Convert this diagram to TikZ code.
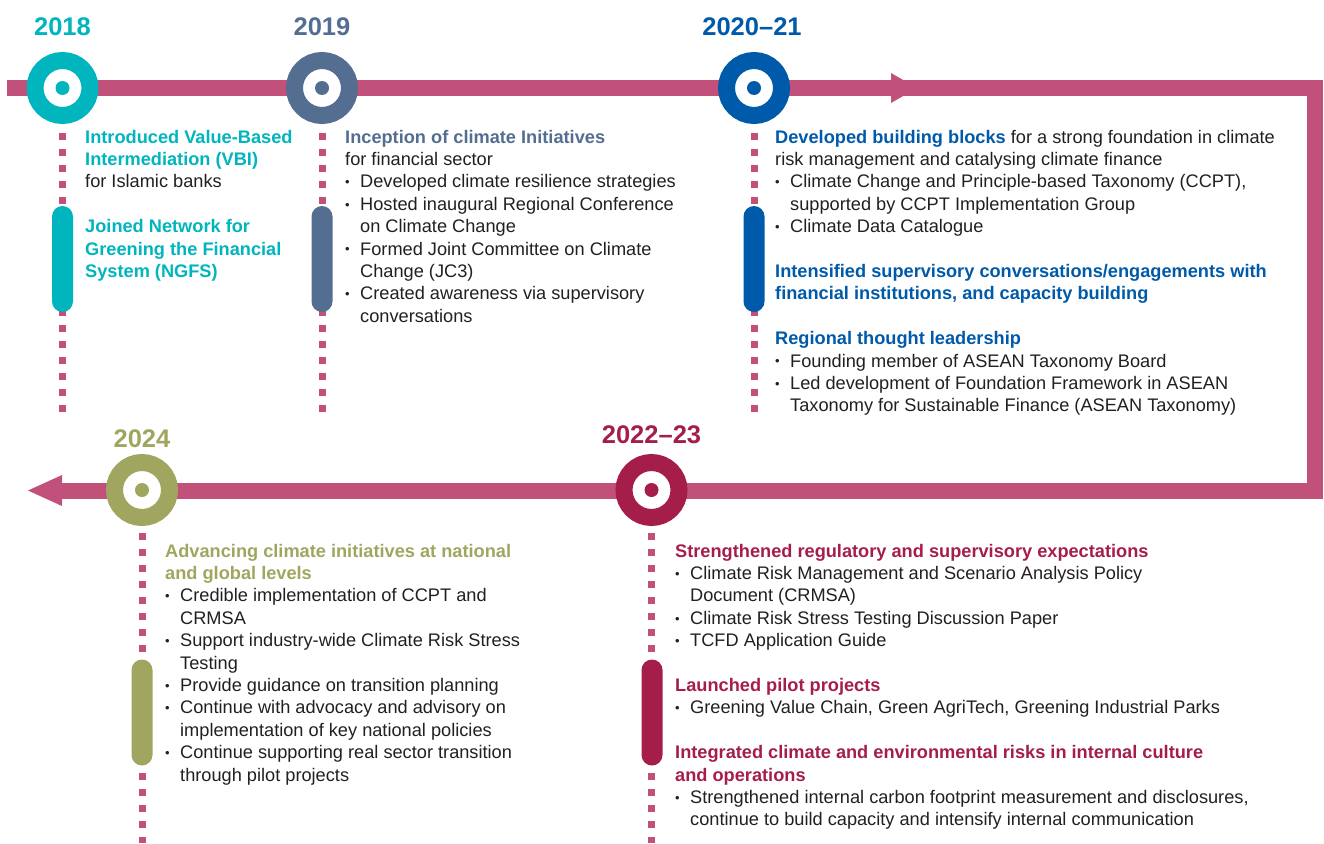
\documentclass[tikz,border=0pt]{standalone}
\usepackage{fontspec}
\setmainfont{Liberation Sans}
\definecolor{tl}{HTML}{00B5BD}
\definecolor{sl}{HTML}{546E91}
\definecolor{bl}{HTML}{005AAA}
\definecolor{cr}{HTML}{A51E4A}
\definecolor{ol}{HTML}{A0A660}
\definecolor{pk}{HTML}{C1507A}
\definecolor{tx}{HTML}{231F20}
\newcommand{\bul}{\makebox[15pt][l]{\raisebox{1.2pt}{\fontsize{13}{13}\selectfont •}}}
\newcommand{\cont}{\hspace*{15pt}}
\begin{document}
\begin{tikzpicture}[x=1pt,y=-1pt,
  ring/.style={circle,draw=#1,line width=17pt,fill=white,minimum size=55pt,inner sep=0pt},
  core/.style={circle,fill=#1,minimum size=14pt,inner sep=0pt},
  pill/.style={rectangle,rounded corners=10.5pt,fill=#1,minimum width=21pt,minimum height=106pt,inner sep=0pt},
  year/.style={text=#1,font=\fontsize{25.5}{25}\selectfont\bfseries,anchor=base,inner sep=0pt},
  txt/.style={anchor=base west,inner sep=0pt,text=tx,font=\fontsize{18.2}{22.4}\selectfont},
  dots/.style={draw=pk,line width=7pt,dash pattern=on 7pt off 9pt},
  tline/.style={draw=pk,line width=16pt,line join=miter}
]
\useasboundingbox (0,0) rectangle (1324,843);

% timeline
\coordinate (start) at (7,88);
\coordinate (c1) at (1314.5,88);
\coordinate (c2) at (1314.5,490.5);
\coordinate (end) at (62,490.5);
\draw[tline] (start) -- (c1) -- (c2) -- (end);
\fill[pk] (891,73) -- (917,88) -- (891,103) -- cycle;
\fill[pk] (62,475) -- (28,490.5) -- (62,506) -- cycle;

% dotted lines
\draw[dots] (62.5,133) -- (62.5,414);
\draw[dots] (322,133) -- (322,414);
\draw[dots] (754,133) -- (754,414);
\draw[dots] (651.5,533) -- (651.5,843);
\draw[dots] (142,533) -- (142,843);

% pills
\node[pill=tl] (p18) at (62.5,259) {};
\node[pill=sl] (p19) at (322,259) {};
\node[pill=bl] (p20) at (754,259) {};
\node[pill=cr] (p22) at (652,712.5) {};
\node[pill=ol] (p24) at (142,712.5) {};

% rings
\node[ring=tl] (r18) at (62.5,88) {};
\node[core=tl] (d18) at (r18) {};
\node[ring=sl] (r19) at (322,88) {};
\node[core=sl] (d19) at (r19) {};
\node[ring=bl] (r20) at (754,88) {};
\node[core=bl] (d20) at (r20) {};
\node[ring=cr] (r22) at (651.5,490) {};
\node[core=cr] (d22) at (r22) {};
\node[ring=ol] (r24) at (142,490) {};
\node[core=ol] (d24) at (r24) {};

% years
\node[year=tl] (y18) at (62.5,36) {2018};
\node[year=sl] (y19) at (322,36) {2019};
\node[year=bl] (y20) at (752,36) {2020–21};
\node[year=cr] (y22) at (651.5,443) {2022–23};
\node[year=ol] (y24) at (142,447) {2024};

% texts
\node[txt] (t18) at (85,143) {\parbox[t]{240pt}{\raggedright\leavevmode
{\bfseries\color{tl}Introduced Value-Based\\Intermediation (VBI)}\\
for Islamic banks\\[22.4pt]
{\bfseries\color{tl}Joined Network for\\Greening the Financial\\System (NGFS)}}};

\node[txt] (t19) at (345,143) {\parbox[t]{400pt}{\raggedright\leavevmode
{\bfseries\color{sl}Inception of climate Initiatives}\\
for financial sector\\
\bul Developed climate resilience strategies\\
\bul Hosted inaugural Regional Conference\\
\cont on Climate Change\\
\bul Formed Joint Committee on Climate\\
\cont Change (JC3)\\
\bul Created awareness via supervisory\\
\cont conversations}};

\node[txt] (t20) at (775,143) {\parbox[t]{540pt}{\raggedright\leavevmode
{\bfseries\color{bl}Developed building blocks} for a strong foundation in climate\\
risk management and catalysing climate finance\\
\bul Climate Change and Principle-based Taxonomy (CCPT),\\
\cont supported by CCPT Implementation Group\\
\bul Climate Data Catalogue\\[22.4pt]
{\bfseries\color{bl}Intensified supervisory conversations/engagements with\\
financial institutions, and capacity building}\\[22.4pt]
{\bfseries\color{bl}Regional thought leadership}\\
\bul Founding member of ASEAN Taxonomy Board\\
\bul Led development of Foundation Framework in ASEAN\\
\cont Taxonomy for Sustainable Finance (ASEAN Taxonomy)}};

\node[txt] (t24) at (165,557) {\parbox[t]{420pt}{\raggedright\leavevmode
{\bfseries\color{ol}Advancing climate initiatives at national\\
and global levels}\\
\bul Credible implementation of CCPT and\\
\cont CRMSA\\
\bul Support industry-wide Climate Risk Stress\\
\cont Testing\\
\bul Provide guidance on transition planning\\
\bul Continue with advocacy and advisory on\\
\cont implementation of key national policies\\
\bul Continue supporting real sector transition\\
\cont through pilot projects}};

\node[txt] (t22) at (675,557) {\parbox[t]{640pt}{\raggedright\leavevmode
{\bfseries\color{cr}Strengthened regulatory and supervisory expectations}\\
\bul Climate Risk Management and Scenario Analysis Policy\\
\cont Document (CRMSA)\\
\bul Climate Risk Stress Testing Discussion Paper\\
\bul TCFD Application Guide\\[22.4pt]
{\bfseries\color{cr}Launched pilot projects}\\
\bul Greening Value Chain, Green AgriTech, Greening Industrial Parks\\[22.4pt]
{\bfseries\color{cr}Integrated climate and environmental risks in internal culture\\
and operations}\\
\bul Strengthened internal carbon footprint measurement and disclosures,\\
\cont continue to build capacity and intensify internal communication}};
\end{tikzpicture}
\end{document}
